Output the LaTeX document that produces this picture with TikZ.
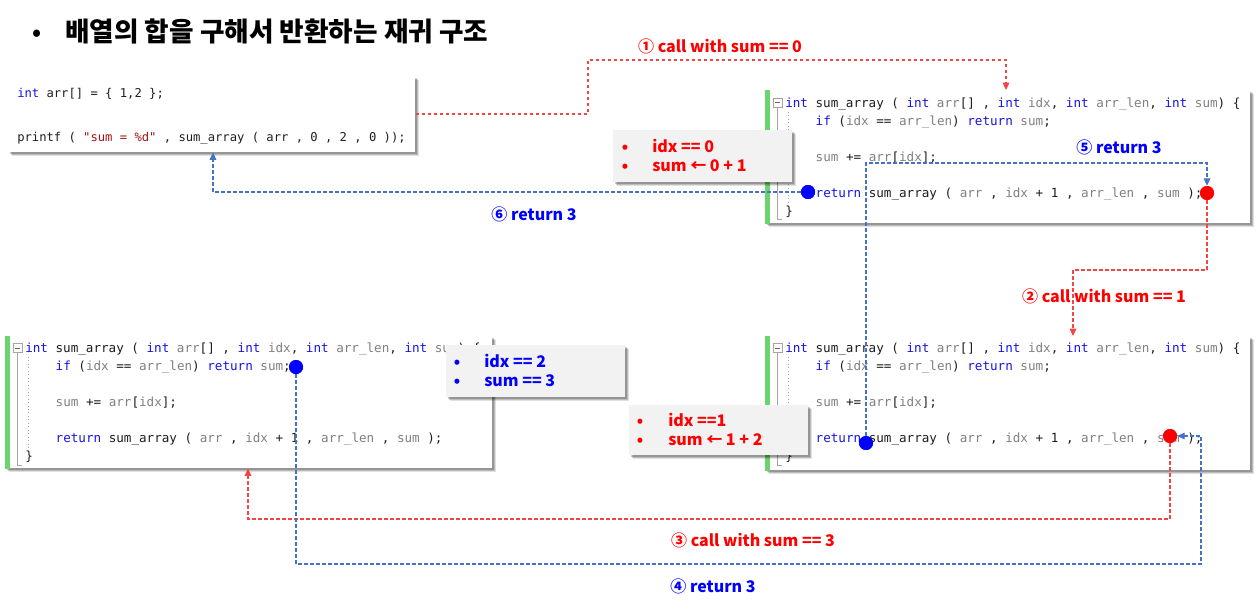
\documentclass[tikz,border=0pt]{standalone}
\usepackage{fontspec}
\usetikzlibrary{arrows.meta,shadows}
\newfontfamily\kr{Noto Sans CJK KR}
\newfontfamily\codefont{DejaVu Sans Mono}
\definecolor{kwc}{RGB}{20,20,230}
\definecolor{pac}{RGB}{128,128,128}
\definecolor{txc}{RGB}{30,30,30}
\definecolor{stc}{RGB}{163,21,21}
\definecolor{barc}{RGB}{108,212,108}
\definecolor{calloutc}{RGB}{242,242,242}
\definecolor{redl}{RGB}{255,0,0}
\definecolor{redd}{RGB}{240,70,70}
\definecolor{blued}{RGB}{68,114,196}
\definecolor{bluel}{RGB}{0,0,255}
\definecolor{guidec}{RGB}{165,165,165}
\newcommand\ckw[1]{\textcolor{kwc}{#1}}
\newcommand\cpa[1]{\textcolor{pac}{#1}}
\newcommand\cst[1]{\textcolor{stc}{#1}}
\tikzset{
  boxshadow/.style={
    drop shadow={shadow xshift=2.6pt, shadow yshift=-2.6pt, opacity=0.12, fill=black},
    drop shadow={shadow xshift=1.9pt, shadow yshift=-1.9pt, opacity=0.16, fill=black},
    drop shadow={shadow xshift=1.2pt, shadow yshift=-1.2pt, opacity=0.2, fill=black}},
  codebox/.style={fill=white, boxshadow, anchor=north west, inner sep=0pt},
  callout/.style={fill=calloutc, boxshadow, anchor=north west, inner sep=0pt},
  codeline/.style={anchor=base west, inner sep=0pt, text=txc, font=\codefont\fontsize{9.45pt}{11pt}\selectfont},
  codelinea/.style={anchor=base west, inner sep=0pt, text=txc, font=\codefont\fontsize{9.13pt}{11pt}\selectfont},
  ctext/.style={anchor=base west, inner sep=0pt, font=\kr\bfseries\fontsize{12pt}{14pt}\selectfont},
  cbul/.style={anchor=base, inner sep=0pt, font=\kr\bfseries\fontsize{12pt}{14pt}\selectfont},
  lbl/.style={anchor=base, inner sep=0pt, font=\kr\bfseries\fontsize{12pt}{14pt}\selectfont},
  guide/.style={draw=guidec, line width=0.6pt},
  reddash/.style={draw=redd, line width=0.8pt, dash pattern=on 2.8pt off 1.7pt},
  bluedash/.style={draw=blued, line width=0.8pt, dash pattern=on 2.8pt off 1.7pt},
  redtip/.style={-{Triangle[length=5.5pt,width=5pt]}, redd},
  bluetip/.style={-{Triangle[length=5.5pt,width=5pt]}, blued},
  dotr/.style={circle, fill=red, minimum size=10.5pt, inner sep=0pt},
  dotb/.style={circle, fill=bluel, minimum size=10.5pt, inner sep=0pt},
}
% #1 prefix, #2 text x, #3 first line centre y
\newcommand\codeblock[3]{%
  \node[codeline] (#1l1) at (#2,#3+4.5) {\ckw{int} sum\_array ( \ckw{int} \cpa{arr}[] , \ckw{int} \cpa{idx}, \ckw{int} \cpa{arr\_len}, \ckw{int} \cpa{sum}) \{};
  \node[codeline] (#1l2) at (#2+30.4,#3+22.5) {\ckw{if} (\cpa{idx} == \cpa{arr\_len}) \ckw{return} \cpa{sum};};
  \node[codeline] (#1l3) at (#2+30.4,#3+58.5) {\cpa{sum} += \cpa{arr}[\cpa{idx}];};
  \node[codeline] (#1l4) at (#2+30.4,#3+94.5) {\ckw{return} sum\_array ( \cpa{arr} , \cpa{idx} + 1 , \cpa{arr\_len} , \cpa{sum} );};
  \node[codeline] (#1l5) at (#2,#3+112.5) {\}};
  \draw[guide] (#2-12,#3-4.5) rectangle (#2-3,#3+4.5);
  \draw[guide, draw=black!60] (#2-10,#3) -- (#2-5,#3);
  \draw[guide] (#2-7.5,#3+4.5) -- (#2-7.5,#3+117) -- (#2-3,#3+117);
  \draw[guide, dotted] (#2+3,#3+9) -- (#2+3,#3+100);
}
\begin{document}
\begin{tikzpicture}[x=0.75pt,y=-0.75pt]
\path[fill=white, use as bounding box] (0,0) rectangle (1259,606);

% title
\node[anchor=base, inner sep=0pt, font=\kr\bfseries\fontsize{17pt}{18pt}\selectfont] (tbul) at (37,41) {•};
\node[anchor=base west, inner sep=0pt, font=\kr\bfseries\fontsize{20pt}{24pt}\selectfont] (title) at (65,42) {배열의 합을 구해서 반환하는 재귀 구조};

% code boxes
\node[codebox, minimum width=305.25pt, minimum height=57pt] (b1) at (8,76) {};
\node[codebox, minimum width=363.75pt, minimum height=99.75pt] (b2) at (765,90) {};
\node[codebox, minimum width=365.25pt, minimum height=99pt] (b3) at (5,336) {};
\node[codebox, minimum width=363.75pt, minimum height=100.5pt] (b4) at (765,336) {};
\fill[barc] (b2.north west) rectangle ([xshift=3.75pt]b2.south west);
\fill[barc] (b3.north west) rectangle ([xshift=3.75pt]b3.south west);
\fill[barc] (b4.north west) rectangle ([xshift=3.75pt]b4.south west);

\node[codelinea] (b1l1) at (17,97.5) {\ckw{int} arr[] = \{ 1,2 \};};
\node[codelinea] (b1l2) at (17,141.5) {printf ( \cst{"sum = \%d"} , sum\_array ( arr , 0 , 2 , 0 ));};
\codeblock{b2}{785}{102.7}
\codeblock{b3}{25}{348}
\codeblock{b4}{785}{348}

% callouts
\node[callout, minimum width=134.25pt, minimum height=39pt] (cA) at (613,130) {};
\node[callout, minimum width=134.25pt, minimum height=39pt] (cB) at (446,345) {};
\node[callout, minimum width=134.25pt, minimum height=37.5pt] (cC) at (629,405) {};
\node[cbul, text=redl] (cAb1) at (625,152.7) {•};
\node[cbul, text=redl] (cAb2) at (625,171.7) {•};
\node[ctext, text=redl] (cA1) at (652,152.7) {idx == 0};
\node[ctext, text=redl] (cA2) at (652,171.7) {sum ← 0 + 1};
\node[cbul, text=bluel] (cBb1) at (457,367.3) {•};
\node[cbul, text=bluel] (cBb2) at (457,386.7) {•};
\node[ctext, text=bluel] (cB1) at (484,367.3) {idx == 2};
\node[ctext, text=bluel] (cB2) at (484,386.7) {sum == 3};
\node[cbul, text=redl] (cCb1) at (640,426) {•};
\node[cbul, text=redl] (cCb2) at (640,445) {•};
\node[ctext, text=redl] (cC1) at (668,426) {idx ==1};
\node[ctext, text=redl] (cC2) at (668,445) {sum ← 1 + 2};

% dots
\node[dotr] (r2) at (1207,193) {};
\node[dotb] (bb2) at (808,192) {};
\node[dotb] (bb3) at (296,367) {};
\node[dotr] (r4) at (1170,436) {};
\node[dotb] (bb4) at (866,443) {};

% corner coordinates
\coordinate (c1a) at (588,114);
\coordinate (c1b) at (588,60);
\coordinate (c1c) at (1006,60);
\coordinate (c2a) at (1073,270);
\coordinate (c3a) at (248,519);
\coordinate (c4a) at (1201,564);
\coordinate (c5a) at (1207,163);
\coordinate (c6a) at (213,192);

% connectors
\draw[reddash, redtip] (b1.east |- c1a) -- (c1a) -- (c1b) -- (c1c) -- (c1c |- b2.north);
\draw[reddash, redtip] (r2) -- (r2 |- c2a) -- (c2a) -- (c2a |- b4.north);
\draw[reddash, redtip] (r4) -- (r4 |- c3a) -- (c3a) -- (c3a |- b3.south);
\draw[bluedash, bluetip] (bb3) -- (bb3 |- c4a) -- (c4a) -- (c4a |- r4) -- (r4.east);
\draw[bluedash, bluetip] (bb4) -- (bb4 |- c5a) -- (c5a) -- (r2.north);
\draw[bluedash, bluetip] (bb2) -- (c6a) -- (c6a |- b1.south);

% redraw dots on top
\node[dotr] at (r2) {};
\node[dotb] at (bb2) {};
\node[dotb] at (bb3) {};
\node[dotr] at (r4) {};
\node[dotb] at (bb4) {};

% labels
\node[lbl, text=redl] (l1) at (720,53) {① call with sum == 0};
\node[lbl, text=redl] (l2) at (1104,302) {② call with sum == 1};
\node[lbl, text=redl] (l3) at (753,546) {③ call with sum == 3};
\node[lbl, text=bluel] (l4) at (713,592) {④ return 3};
\node[lbl, text=bluel] (l5) at (1119,154) {⑤ return 3};
\node[lbl, text=bluel] (l6) at (534,220) {⑥ return 3};
\end{tikzpicture}
\end{document}
